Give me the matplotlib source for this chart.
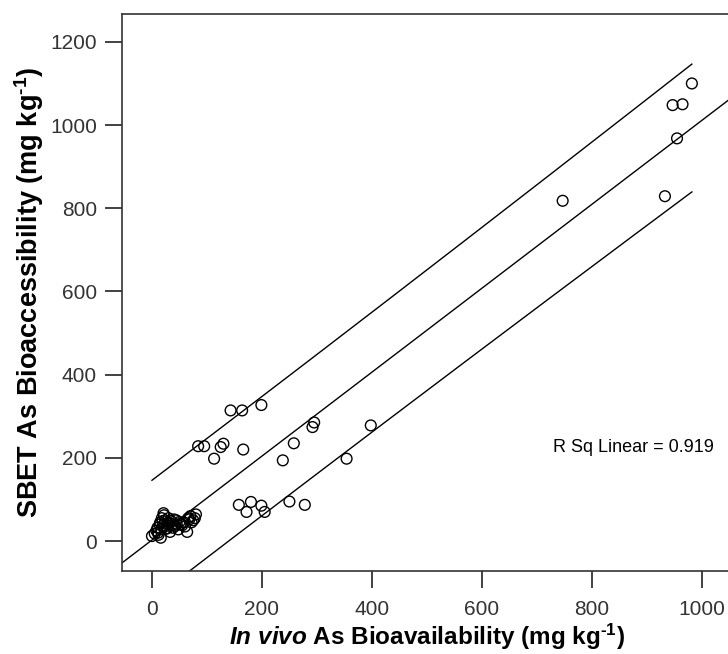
import numpy as np
import matplotlib.pyplot as plt

# In vivo As bioavailability (x) vs SBET As bioaccessibility (y), mg/kg
invivo = [0, 5, 8, 10, 12, 14, 15, 16, 18, 20, 21, 22, 24, 25, 28, 30, 33, 35, 38, 40,
          42, 45, 48, 50, 52, 55, 60, 64, 68, 72, 75, 78, 80,
          11, 17, 19, 23, 27, 31, 36, 44, 58, 66, 70,
          84, 95, 113, 125, 130, 143, 164, 166, 199,
          238, 258, 292, 295, 354, 398,
          158, 172, 180, 199, 205, 250, 278,
          747, 933, 947, 955, 965, 982]
sbet = [12, 18, 25, 32, 15, 40, 45, 8, 55, 38, 67, 62, 50, 30, 42, 55, 22, 48, 32, 52,
        36, 40, 28, 46, 41, 38, 35, 22, 52, 45, 50, 55, 64,
        20, 28, 48, 35, 30, 44, 38, 50, 45, 55, 60,
        228, 228, 198, 226, 234, 314, 314, 220, 327,
        194, 235, 274, 285, 198, 278,
        87, 70, 94, 85, 70, 95, 87,
        818, 829, 1048, 968, 1050, 1100]
x_ticks = [0, 200, 400, 600, 800, 1000]
y_ticks = [0, 200, 400, 600, 800, 1000, 1200]
r2_label = "R Sq Linear = 0.919"

plt.rcParams['font.family'] = ['Liberation Sans', 'DejaVu Sans']
plt.rcParams['mathtext.fontset'] = 'custom'
plt.rcParams['mathtext.rm'] = 'Liberation Sans:bold'
plt.rcParams['mathtext.it'] = 'Liberation Sans:bold:italic'
plt.rcParams['mathtext.bf'] = 'Liberation Sans:bold'

x = np.array(invivo, dtype=float)
y = np.array(sbet, dtype=float)

# linear fit and 95% prediction interval
slope, icpt = np.polyfit(x, y, 1)
n = len(x)
resid = y - (slope * x + icpt)
s = np.sqrt(np.sum(resid ** 2) / (n - 2))
sxx = np.sum((x - x.mean()) ** 2)
t = 1.99

fig = plt.figure(figsize=(7.28, 6.54), dpi=100)
ax = fig.add_axes([122 / 728, 83 / 654, 610 / 728, 557 / 654])

xmin, xmax = -54.5, 1055
ax.set_xlim(xmin, xmax)
ax.set_ylim(-72, 1267)

xf = np.linspace(xmin, xmax, 200)
ax.plot(xf, slope * xf + icpt, color='black', lw=1)
xp = np.linspace(x.min(), x.max(), 200)
half = t * s * np.sqrt(1 + 1 / n + (xp - x.mean()) ** 2 / sxx)
ax.plot(xp, slope * xp + icpt + half, color='black', lw=1)
ax.plot(xp, slope * xp + icpt - half, color='black', lw=1)

ax.scatter(x, y, s=60, facecolors='none', edgecolors='black', linewidths=1, zorder=3)

ax.text(729, 226, r2_label, fontsize=13, va='center', ha='left')

ax.set_xticks(x_ticks)
ax.set_yticks(y_ticks)
ax.tick_params(axis='both', direction='out', length=12, width=1.3, labelsize=15,
               colors='#333333')
ax.tick_params(axis='x', pad=9)
ax.tick_params(axis='y', pad=6)
for side in ['left', 'bottom', 'top', 'right']:
    ax.spines[side].set_color('#333333')
    ax.spines[side].set_linewidth(1.2)

ax.set_xlabel(r"$\it{In\ vivo}$ As Bioavailability (mg kg$^{\text{-1}}$)", fontsize=17.5,
              fontweight='bold', labelpad=2)
ax.set_ylabel(r"SBET As Bioaccessibility (mg kg$^{\text{-1}}$)", fontsize=19.5,
              fontweight='bold', labelpad=3)

fig.savefig('out.png', dpi=100)
